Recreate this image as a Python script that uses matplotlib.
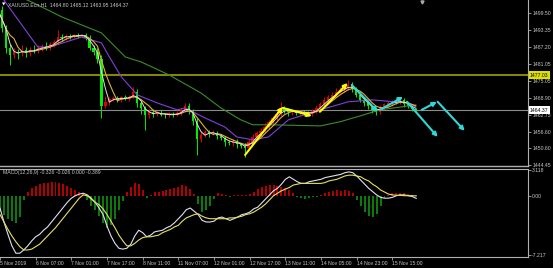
import numpy as np
import pandas as pd
import matplotlib
matplotlib.use('Agg')
import matplotlib.pyplot as plt
import matplotlib.transforms as mtransforms

plt.rcParams['font.family'] = ['Liberation Sans', 'DejaVu Sans']

# XAUUSD.Ecn H1, 5 Nov - 15 Nov 2019 (closes)
close = [
    1500.5, 1494.0, 1487.0, 1484.5, 1485.5, 1485.0, 1486.0, 1485.2, 1486.3, 1486.0,
    1486.8, 1487.5, 1487.0, 1488.2, 1489.0, 1491.0, 1490.5, 1491.2, 1491.0, 1491.5,
    1491.3, 1491.6, 1490.5, 1487.0, 1485.5, 1483.0, 1466.0, 1467.5, 1468.3, 1468.8,
    1468.2, 1469.0, 1468.5, 1469.3, 1471.0, 1467.0, 1465.0, 1462.5, 1463.8, 1463.0,
    1463.5, 1462.8, 1462.5, 1463.0, 1462.7, 1463.2, 1464.5, 1465.8, 1464.0, 1460.5,
    1454.0, 1455.5, 1456.5, 1456.0, 1456.3, 1455.0, 1454.5, 1453.0, 1452.5, 1453.2,
    1452.0, 1451.5, 1450.8, 1453.0, 1454.7, 1456.0, 1457.0, 1458.2, 1460.0, 1461.5,
    1463.0, 1465.0, 1464.2, 1463.6, 1464.0, 1463.5, 1463.8, 1463.2, 1463.0, 1464.0,
    1465.2, 1466.5, 1468.0, 1469.0, 1470.0, 1471.0, 1471.8, 1472.5, 1473.5, 1472.0,
    1470.0, 1468.2, 1467.0, 1465.8, 1464.5, 1463.8, 1465.5, 1466.5, 1466.8, 1467.5,
    1467.2, 1468.0, 1466.5, 1466.0, 1464.8, 1464.37]
first_open = 1504.0
up_wick = [
    0.3, 1.5, 1.0, 1.2, 1.5, 1.0, 1.8, 1.2, 1.0, 1.5,
    1.2, 0.8, 1.5, 1.0, 0.8, 2.4, 1.0, 0.6, 0.8, 0.5,
    0.6, 0.4, 0.8, 1.2, 1.0, 1.5, 1.2, 2.0, 0.8, 0.6,
    0.8, 0.5, 0.7, 0.5, 1.8, 1.0, 1.2, 0.8, 1.0, 0.9,
    0.6, 0.8, 0.5, 0.7, 0.6, 0.8, 0.7, 1.0, 1.2, 0.8,
    1.0, 1.2, 0.8, 0.6, 0.9, 0.7, 0.8, 0.6, 0.5, 0.8,
    0.7, 0.6, 0.9, 1.0, 1.2, 0.8, 1.0, 1.5, 1.0, 0.8,
    1.2, 2.5, 1.0, 0.8, 0.9, 0.6, 0.7, 0.5, 0.8, 0.9,
    1.0, 0.8, 1.2, 0.9, 1.0, 1.4, 0.8, 1.0, 1.8, 1.0,
    0.8, 0.9, 0.6, 0.8, 0.5, 0.7, 0.8, 0.6, 1.0, 0.7,
    0.8, 1.3, 0.6, 0.5, 0.4, 0.32]
dn_wick = [
    0.5, 1.5, 2.0, 3.8, 1.2, 2.0, 1.0, 1.5, 1.2, 1.0,
    0.8, 1.2, 1.0, 0.8, 1.0, 0.8, 1.2, 0.6, 0.8, 0.5,
    0.7, 0.6, 0.8, 1.0, 1.2, 1.5, 4.4, 1.0, 1.2, 0.6,
    0.8, 0.7, 0.6, 0.8, 0.5, 1.5, 2.0, 5.2, 1.0, 1.2,
    0.8, 0.6, 1.0, 0.7, 0.8, 0.6, 0.5, 0.7, 1.0, 1.5,
    5.8, 1.0, 0.8, 1.2, 0.7, 0.9, 1.0, 1.5, 0.8, 1.0,
    1.2, 0.9, 3.3, 0.8, 0.7, 0.6, 0.8, 0.7, 0.5, 0.6,
    0.8, 0.9, 1.0, 1.2, 0.8, 0.7, 0.9, 1.0, 0.8, 0.6,
    0.5, 0.7, 0.6, 0.8, 0.7, 0.6, 0.5, 0.7, 0.8, 1.0,
    0.9, 0.8, 1.0, 0.9, 1.2, 1.3, 0.8, 0.7, 0.6, 0.8,
    0.7, 0.6, 0.8, 0.7, 0.6, 0.42]

# slow moving averages, read at a few bars
purple_bar = [0, 2, 10, 13, 21, 26, 28, 31, 35, 40, 45, 47, 52, 57, 60, 64, 68, 73, 81, 88, 94, 103, 105]
purple_val = [1507.5, 1503.1, 1487.2, 1487.2, 1490.8, 1488.7, 1483.6, 1476.4, 1469.9, 1467.0, 1464.5, 1465.2,
              1461.6, 1458.3, 1454.7, 1453.7, 1454.7, 1460.9, 1464.5, 1467.4, 1468.1, 1467.0, 1465.6]
green_bar = [0, 9, 16, 26, 32, 36, 43, 51, 56, 61, 64, 68, 81, 86, 91, 96, 105]
green_val = [1509.0, 1503.1, 1498.1, 1492.3, 1483.6, 1481.8, 1477.1, 1470.6, 1465.2, 1460.9,
             1459.1, 1459.1, 1458.7, 1460.2, 1462.3, 1464.5, 1466.3]

# MACD(12,26,9)
dif = [
    -1.5, -3.2, -4.7, -6.1, -7.0, -7.0, -6.6, -6.1, -5.5, -5.0,
    -4.7, -4.2, -3.8, -3.2, -2.6, -2.0, -1.4, -0.8, -0.3, 0.0,
    0.2, 0.3, 0.1, -0.3, -0.8, -1.5, -2.3, -3.7, -4.9, -5.8,
    -6.4, -6.5, -6.4, -5.9, -4.9, -4.2, -4.5, -5.0, -4.8, -4.4,
    -4.3, -4.2, -3.9, -3.7, -3.3, -2.8, -2.3, -1.7, -1.5, -1.9,
    -2.3, -3.0, -3.2, -3.2, -3.1, -2.7, -2.6, -2.8, -3.0, -2.8,
    -2.6, -2.3, -2.2, -2.0, -1.6, -1.4, -0.9, -0.4, 0.1, 0.6,
    0.9, 1.4, 2.0, 2.3, 2.0, 1.7, 1.5, 1.5, 1.7, 1.8,
    1.9, 2.0, 2.2, 2.3, 2.4, 2.5, 2.6, 2.8, 2.9, 2.8,
    2.4, 1.9, 1.4, 0.9, 0.5, 0.1, -0.2, -0.3, -0.3, -0.2,
    0.0, 0.1, 0.1, 0.0, -0.1, -0.326]
dea = [
    -2.3, -3.2, -4.1, -4.9, -5.6, -6.2, -6.6, -6.6, -6.5, -6.2,
    -5.9, -5.4, -4.9, -4.4, -3.9, -3.3, -2.7, -2.1, -1.5, -0.9,
    -0.3, 0.1, 0.0, -0.4, -0.8, -1.1, -1.6, -2.3, -3.1, -3.9,
    -4.8, -5.5, -6.1, -6.1, -5.8, -5.4, -5.1, -5.0, -5.0, -4.9,
    -4.8, -4.5, -4.3, -4.1, -3.8, -3.6, -3.1, -2.7, -2.5, -2.3,
    -2.2, -2.5, -2.7, -2.8, -2.8, -2.8, -2.8, -2.8, -2.7, -2.7,
    -2.6, -2.5, -2.3, -2.2, -2.0, -1.7, -1.4, -1.0, -0.5, 0.0,
    0.3, 0.6, 0.8, 1.0, 1.3, 1.4, 1.5, 1.5, 1.5, 1.5,
    1.5, 1.5, 1.6, 1.8, 1.9, 2.0, 2.2, 2.4, 2.5, 2.5,
    2.4, 2.3, 2.0, 1.8, 1.4, 1.1, 0.7, 0.45, 0.2, 0.1,
    0.05, 0.05, 0.0, 0.0, 0.0, -0.026]
hist = [
    -2.0, -2.4, -2.8, -3.1, -3.3, -2.6, -0.5, 0.5, 0.9, 1.2,
    1.4, 1.5, 1.6, 1.7, 1.7, 1.6, 1.4, 1.2, 0.9, 0.7,
    0.4, 0.15, -0.5, -1.2, -1.8, -2.5, -3.3, -3.9, -3.6, -2.8,
    -1.8, -0.6, 0.5, 1.1, 1.6, 1.4, 0.7, -0.3, 0.1, 0.4,
    0.5, 0.6, 0.7, 0.8, 0.9, 1.1, 1.3, 1.2, 0.8, 0.2,
    -1.0, -2.0, -1.8, -1.2, -0.4, 0.3, 0.2, 0.05, -0.1, 0.05,
    0.1, 0.05, 0.1, 0.2, 0.5, 0.8, 1.0, 1.2, 1.3, 1.3,
    1.2, 1.0, 0.9, 0.7, 0.3, -0.2, -0.3, -0.35, -0.3, -0.2,
    -0.1, 0.1, 0.3, 0.5, 0.6, 0.7, 0.6, 0.7, 0.6, 0.3,
    -0.5, -1.3, -2.0, -2.5, -2.6, -2.2, -1.2, -0.3, 0.1, 0.3,
    0.35, 0.35, 0.3, 0.2, 0.1, 0.05]

date_labels = ['5 Nov 2019', '6 Nov 07:00', '7 Nov 01:00', '7 Nov 17:00', '8 Nov 11:00',
               '11 Nov 07:00', '12 Nov 01:00', '12 Nov 17:00', '13 Nov 11:00',
               '14 Nov 05:00', '14 Nov 23:00', '15 Nov 15:00']
date_every = 9
price_ticks = [1499.50, 1493.35, 1487.20, 1481.05, 1475.05, 1468.90, 1462.75, 1456.60, 1450.60, 1444.45]
macd_ticks = [3.118, 0.0, -7.217]
macd_tick_labels = ['3.118', '0.00', '-7.217']

resistance = 1477.03
last_price = 1464.37
title = 'XAUUSD.Ecn,H1  1464.80 1465.12 1463.95 1464.37'
macd_title = 'MACD(12,26,9) -0.326 -0.026 0.000 -0.389'

# drawn trend arrows (bar, price) -> (bar, price)
yellow_arrows = [(62.1, 1448.2, 71.6, 1465.6), (71.6, 1465.2, 78.9, 1462.3), (80.9, 1463.8, 87.9, 1474.2)]
cyan_arrows = [(88.9, 1473.5, 95.5, 1463.8), (96.0, 1464.5, 101.8, 1469.2), (102.8, 1467.4, 110.5, 1454.7),
               (106.5, 1464.5, 110.3, 1467.4), (110.5, 1467.4, 117.3, 1456.9)]
shift_bar = 106.5

GRAY = '#c8c8c8'
FS = 3.7

c = np.array(close)
o = np.r_[first_open, c[:-1]]
hi = np.maximum(o, c) + np.array(up_wick)
lo = np.minimum(o, c) - np.array(dn_wick)
x = np.arange(len(c))
col = np.where(c >= o, '#e00000', '#00ee00')

s = pd.Series(close)
ma_fast = s.rolling(3, min_periods=1).mean()
ma_mid = s.rolling(5, min_periods=1).mean()

fig = plt.figure(figsize=(5.53, 2.68), dpi=100, facecolor='black')
ax = fig.add_axes([0, 1 - 166 / 268, 528 / 553, 166 / 268], facecolor='black')
axm = fig.add_axes([0, 1 - 257 / 268, 528 / 553, 88 / 268], facecolor='black')

# price window
ax.axhline(resistance, color='#b0b000', lw=1.1, zorder=1)
ax.axhline(last_price, color='#8c8c8c', lw=0.8, zorder=1)
ax.vlines(x, lo, hi, colors=col, lw=0.7, zorder=2)
ax.bar(x, np.maximum(np.abs(c - o), 0.2), bottom=np.minimum(o, c), width=0.6, color=col, zorder=2)
ax.plot(green_bar, green_val, color='#3c8c28', lw=0.8, zorder=3)
ax.plot(purple_bar, purple_val, color='#8040d8', lw=0.8, zorder=3)
ax.plot(x, ma_mid, color='#e0b040', lw=0.8, zorder=3)
ax.plot(x, ma_fast, color='#f0d8e4', lw=0.7, zorder=3)

for b0, p0, b1, p1 in yellow_arrows:
    ax.annotate('', xy=(b1, p1), xytext=(b0, p0), zorder=5,
                arrowprops=dict(arrowstyle='-|>', color='#ffff00', lw=1.5, mutation_scale=6,
                                shrinkA=0, shrinkB=0))
for b0, p0, b1, p1 in cyan_arrows:
    ax.annotate('', xy=(b1, p1), xytext=(b0, p0), zorder=5,
                arrowprops=dict(arrowstyle='-|>', color='#30d8d8', lw=1.5, mutation_scale=6,
                                shrinkA=0, shrinkB=0))

ax.set_xlim(0.5, 133.2)
ax.set_ylim(1444.2, 1504.2)
ax.yaxis.tick_right()
ax.set_yticks(price_ticks)
ax.set_yticklabels(['%.2f' % v for v in price_ticks])
ax.set_xticks([])
ax.tick_params(axis='y', colors=GRAY, labelsize=FS, length=2, width=0.5, pad=1)
for sp in ['top', 'left']:
    ax.spines[sp].set_visible(False)
ax.spines['right'].set_color('#b0b0b0')
ax.spines['bottom'].set_color('#b0b0b0')
ax.spines['right'].set_linewidth(0.8)
ax.spines['bottom'].set_linewidth(1.0)

ytr = mtransforms.blended_transform_factory(ax.transAxes, ax.transData)
ax.text(1.004, resistance, '%.2f' % resistance, transform=ytr, fontsize=FS, color='black', va='center',
        ha='left', clip_on=False, zorder=10, bbox=dict(boxstyle='square,pad=0.25', fc='#e0e000', ec='none'))
ax.text(1.004, last_price, '%.2f' % last_price, transform=ytr, fontsize=FS, color='black', va='center',
        ha='left', clip_on=False, zorder=10, bbox=dict(boxstyle='square,pad=0.25', fc='white', ec='none'))
xtr = mtransforms.blended_transform_factory(ax.transData, ax.transAxes)
ax.plot([shift_bar], [0.99], marker='v', color='#a8a8a8', ms=2.2, transform=xtr, clip_on=False)

fig.text(1.5 / 553, 1 - 4.5 / 268, '\u25bc', fontsize=3.2, color='white', va='center', family='DejaVu Sans')
fig.text(8 / 553, 1 - 4.5 / 268, title, fontsize=FS, color=GRAY, va='center')

# MACD window
axm.bar(x, hist, width=0.5, color=np.where(np.array(hist) > 0, '#b00000', '#0a7a0a'), zorder=2)
axm.plot(x, dif, color='#e0e0f0', lw=0.8, zorder=3)
axm.plot(x, dea, color='#e6e060', lw=0.8, zorder=3)
axm.set_xlim(0.5, 133.2)
axm.set_ylim(-7.46, 3.25)
axm.yaxis.tick_right()
axm.set_yticks(macd_ticks)
axm.set_yticklabels(macd_tick_labels)
axm.set_xticks(np.arange(len(date_labels)) * date_every)
axm.set_xticklabels(date_labels, ha='left')
axm.tick_params(colors=GRAY, labelsize=FS, length=2, width=0.5, pad=1)
axm.spines['left'].set_visible(False)
for sp in ['right', 'top', 'bottom']:
    axm.spines[sp].set_color('#b0b0b0')
    axm.spines[sp].set_linewidth(0.8)
axm.text(0.005, 0.985, macd_title, transform=axm.transAxes, fontsize=FS, color=GRAY, va='top')

fig.savefig('out.png', dpi=100, facecolor='black')
